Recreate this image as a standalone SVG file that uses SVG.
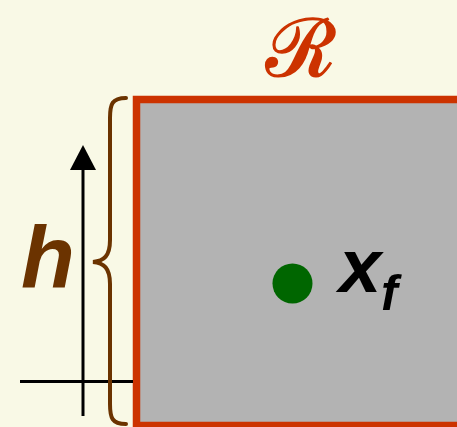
<svg xmlns="http://www.w3.org/2000/svg" width="457" height="427" viewBox="0 0 457 427">
<style>
.axis{stroke:#000;stroke-width:3;fill:none}
.brace{stroke:#6b3300;stroke-width:4;fill:none;stroke-linecap:round}
.lbl{font-family:"Liberation Sans",Arial,sans-serif;font-weight:bold;font-style:italic}
</style>
<rect width="457" height="427" fill="#f9f9e6"/>
<g id="region">
<rect x="136.5" y="99.5" width="330" height="326" fill="#b3b3b3" stroke="#cc3300" stroke-width="7.5"/>
<text x="301" y="76" text-anchor="middle" font-family="DejaVu Serif,serif" font-size="80" fill="#cc3300" stroke="#cc3300" stroke-width="1.6" stroke-linejoin="round">ℛ</text>
</g>
<g id="connectors">
<line class="axis" x1="83" y1="416" x2="83" y2="170"/>
<path d="M70,170 L83,145 L96,170 Z" fill="#000"/>
<line class="axis" x1="20" y1="381.5" x2="133" y2="381.5"/>
<path class="brace" d="M126,98 C112,98 110,104 110,118 L110,240 C110,256 104,261 93,262 C104,263 110,268 110,284 L110,404 C110,418 112,424 126,424"/>
</g>
<g id="h-label">
<text class="lbl" x="21" y="287" font-size="88" fill="#6b3300">h</text>
</g>
<g id="point">
<circle cx="292.5" cy="283.5" r="20" fill="#006600"/>
<text class="lbl" x="339" y="292" font-size="76" fill="#000">x</text>
<text class="lbl" x="381" y="310" font-size="50" fill="#000">f</text>
</g>
</svg>
